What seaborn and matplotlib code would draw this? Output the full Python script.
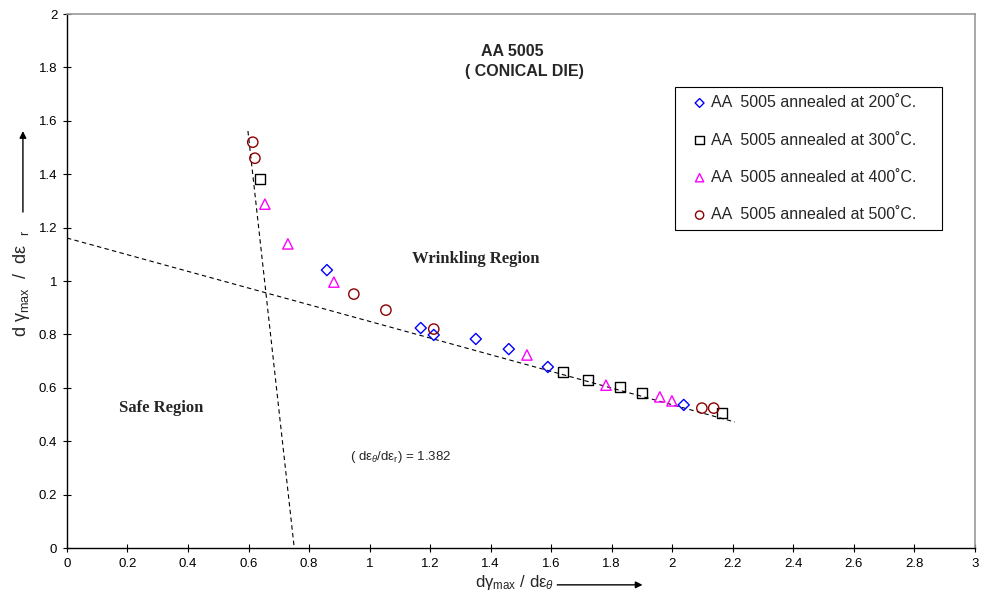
import numpy as np
import pandas as pd
import matplotlib
matplotlib.use("Agg")
import matplotlib.pyplot as plt
from matplotlib.ticker import FuncFormatter, MultipleLocator
import seaborn as sns

# data
x_200 = [0.859, 1.169, 1.212, 1.351, 1.460, 1.589, 2.038]
y_200 = [1.041, 0.824, 0.798, 0.783, 0.745, 0.678, 0.536]

x_300 = [0.638, 1.639, 1.721, 1.827, 1.900, 2.164]
y_300 = [1.382, 0.659, 0.629, 0.603, 0.581, 0.506]

x_400 = [0.654, 0.730, 0.882, 1.520, 1.781, 1.959, 1.999]
y_400 = [1.288, 1.139, 0.996, 0.723, 0.610, 0.566, 0.551]

x_500 = [0.614, 0.621, 0.948, 1.054, 1.212, 2.098, 2.137]
y_500 = [1.520, 1.460, 0.951, 0.891, 0.820, 0.524, 0.524]

labels = ["AA  5005 annealed at 200˚C.", "AA  5005 annealed at 300˚C.",
          "AA  5005 annealed at 400˚C.", "AA  5005 annealed at 500˚C."]

# dashed boundary lines
wrinkle_x = [0.0, 2.207]
wrinkle_y = [1.161, 0.472]
limit_x = [0.598, 0.750]
limit_y = [1.562, 0.011]

sns.set_style("white")
plt.rcParams["font.family"] = ["Liberation Sans", "DejaVu Sans"]
plt.rcParams["mathtext.fontset"] = "custom"
plt.rcParams["mathtext.rm"] = "Liberation Sans"
plt.rcParams["mathtext.it"] = "Liberation Sans:italic"

fig = plt.figure(figsize=(9.89, 6.05), dpi=100)
ax = fig.add_axes([0.0677, 0.0942, 0.918, 0.8826])

series = [
    (x_200, y_200, "D", "#0000ff", 32),
    (x_300, y_300, "s", "#000000", 55),
    (x_400, y_400, "^", "#ff00ff", 55),
    (x_500, y_500, "o", "#8b0000", 55),
]
for (xs, ys, m, c, s), lab in zip(series, labels):
    df = pd.DataFrame({"x": xs, "y": ys})
    # trailing spaces only pad the legend box on the right
    sns.scatterplot(data=df, x="x", y="y", marker=m, color=c, facecolor="none",
                    edgecolor=c, linewidth=1.0, s=s, ax=ax, label=lab + "    ", zorder=3)

ax.plot(wrinkle_x, wrinkle_y, color="black", lw=0.8, ls=(0, (4, 3)), zorder=2)
ax.plot(limit_x, limit_y, color="black", lw=0.8, ls=(0, (4, 3)), zorder=2)

ax.set_xlim(0, 3)
ax.set_ylim(0, 2)
ax.xaxis.set_major_locator(MultipleLocator(0.2))
ax.yaxis.set_major_locator(MultipleLocator(0.2))
fmt = FuncFormatter(lambda v, p: f"{v:g}")
ax.xaxis.set_major_formatter(fmt)
ax.yaxis.set_major_formatter(fmt)
ax.tick_params(axis="both", direction="inout", length=6, width=0.8,
               labelsize=9.5, bottom=True, left=True, colors="black", pad=4)

for side in ["left", "bottom"]:
    ax.spines[side].set_color("black")
    ax.spines[side].set_linewidth(1.0)
for side in ["top", "right"]:
    ax.spines[side].set_color("#999999")
    ax.spines[side].set_linewidth(1.2)

ax.set_xlabel(r"dγ$_{\mathrm{max}}$ / dε$_{\theta}$", fontsize=12)
ax.xaxis.set_label_coords(0.493, -0.046)
ax.set_ylabel(r"d γ$_{\mathrm{max}}$  /  dε  $_{\mathrm{r}}$", fontsize=13)
ax.yaxis.set_label_coords(-0.039, 0.496)

arrow = dict(arrowstyle="-|>", color="black", lw=1.0, mutation_scale=10)
ax.annotate("", xy=(0.637, -0.069), xytext=(0.537, -0.069), xycoords="axes fraction",
            arrowprops=arrow, annotation_clip=False)
ax.annotate("", xy=(-0.0485, 0.786), xytext=(-0.0485, 0.624), xycoords="axes fraction",
            arrowprops=arrow, annotation_clip=False)

ax.text(1.473, 1.858, "AA 5005", ha="center", va="center", fontsize=11.5, fontweight="bold")
ax.text(1.513, 1.783, "( CONICAL DIE)", ha="center", va="center", fontsize=11.5, fontweight="bold")
ax.text(1.351, 1.082, "Wrinkling Region", ha="center", va="center", fontsize=12,
        fontweight="bold", family="Liberation Serif")
ax.text(0.311, 0.524, "Safe Region", ha="center", va="center", fontsize=12,
        fontweight="bold", family="Liberation Serif")
ax.text(1.103, 0.341, r"( dε$_{\theta}$/dε$_{\mathrm{r}}$) = 1.382", ha="center", va="center",
        fontsize=9.5)

leg = ax.legend(loc="upper right", bbox_to_anchor=(0.964, 0.863), fontsize=11.5,
                frameon=True, fancybox=False, framealpha=1, edgecolor="black",
                labelspacing=1.4, handlelength=2.07, handletextpad=-0.34,
                borderpad=0.5, markerscale=0.8, borderaxespad=0)
leg.get_frame().set_linewidth(0.8)

fig.savefig("out.png", dpi=100)
